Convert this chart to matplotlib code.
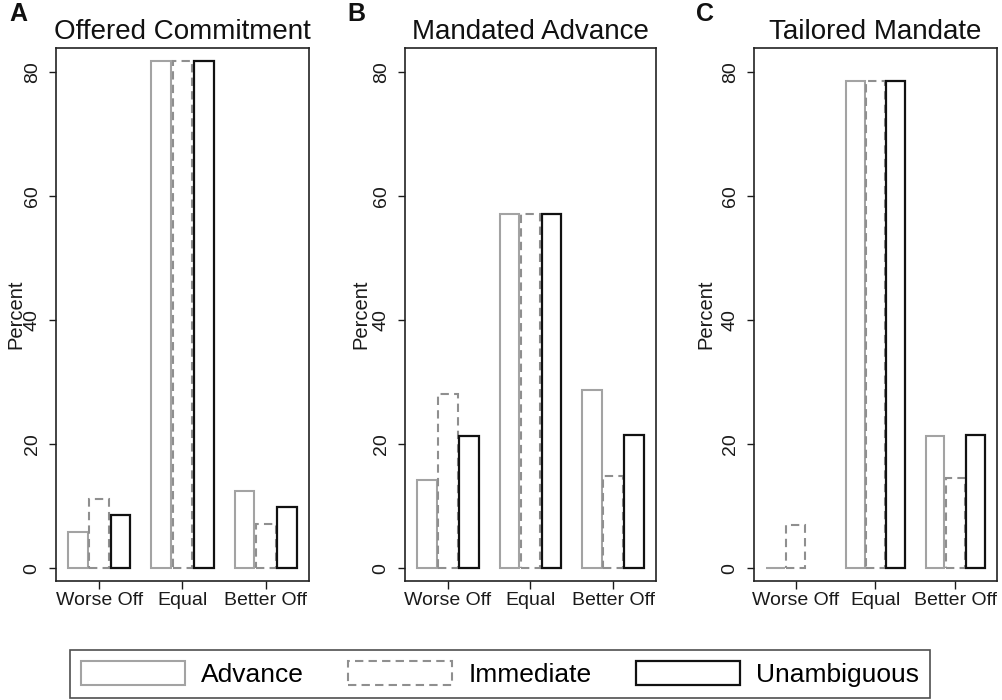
import numpy as np
import matplotlib
matplotlib.use("Agg")
import matplotlib.pyplot as plt
from matplotlib.patches import Patch

plt.rcParams["font.family"] = ["Liberation Sans", "DejaVu Sans"]

categories = ["Worse Off", "Equal", "Better Off"]
series_names = ["Advance", "Immediate", "Unambiguous"]
panel_letters = ["A", "B", "C"]
panel_titles = ["Offered Commitment", "Mandated Advance", "Tailored Mandate"]

# percent per outcome, one list per series
offered_advance = [5.9, 81.8, 12.5]
offered_immediate = [11.2, 81.8, 7.1]
offered_unambiguous = [8.6, 81.8, 9.8]

mandated_advance = [14.2, 57.2, 28.7]
mandated_immediate = [28.1, 57.2, 14.8]
mandated_unambiguous = [21.3, 57.2, 21.5]

tailored_advance = [0.0, 78.6, 21.3]
tailored_immediate = [7.0, 78.6, 14.6]
tailored_unambiguous = [np.nan, 78.6, 21.5]  # no bar drawn in the original

panels = [
    [offered_advance, offered_immediate, offered_unambiguous],
    [mandated_advance, mandated_immediate, mandated_unambiguous],
    [tailored_advance, tailored_immediate, tailored_unambiguous],
]

styles = [
    dict(edgecolor="#a3a3a3", linestyle="-", linewidth=1.5),
    dict(edgecolor="#8f8f8f", linestyle=(0, (4, 2.5)), linewidth=1.5),
    dict(edgecolor="#111111", linestyle="-", linewidth=1.6),
]

W, H = 1003, 700
fig = plt.figure(figsize=(W / 100, H / 100), dpi=100)

# axes boxes in pixels: left, right
boxes = [(56, 309), (405, 656), (754, 997)]
top_px, bottom_px = 48, 581
letter_x = [9, 347, 696]
ylabel_off = [-31, -35, -39]

x = np.arange(len(categories))
offsets = [-0.255, 0.0, 0.255]
bar_w = 0.235

for i, (left, right) in enumerate(boxes):
    ax = fig.add_axes([left / W, 1 - bottom_px / H, (right - left) / W,
                       (bottom_px - top_px) / H])
    for values, off, st in zip(panels[i], offsets, styles):
        ax.bar(x + off, values, width=bar_w, facecolor="white", **st)
    ax.set_xlim(-0.52, 2.52)
    ax.set_ylim(-2.06, 83.9)
    ax.set_xticks(x)
    ax.set_xticklabels(categories)
    ax.set_yticks([0, 20, 40, 60, 80])
    ax.tick_params(axis="x", labelsize=14, length=6, width=1, pad=2,
                   colors="#1a1a1a")
    ax.tick_params(axis="y", labelsize=14, length=5, width=1, pad=6,
                   colors="#1a1a1a", labelrotation=90)
    for lbl in ax.get_yticklabels():
        lbl.set_va("center")
    for sp in ax.spines.values():
        sp.set_linewidth(1.2)
        sp.set_color("#222222")
    ax.set_ylabel("Percent", fontsize=14.5, color="#1a1a1a")
    ax.yaxis.set_label_coords(ylabel_off[i] / (right - left), 0.5)
    ax.set_title(panel_titles[i], fontsize=20, pad=6.5, color="#111111")
    fig.text(letter_x[i] / W, 1 - 2 / H, panel_letters[i], fontsize=18,
             fontweight="bold", va="top", ha="left", color="#111111")

handles = [Patch(facecolor="white", **st) for st in styles]
leg = fig.legend(handles, series_names, loc="center", ncol=3,
                 bbox_to_anchor=(500 / W, 1 - 674 / H), fontsize=19,
                 handlelength=3.94, handleheight=1.02, handletextpad=0.6,
                 columnspacing=1.7, borderpad=0.4, frameon=True,
                 fancybox=False, edgecolor="#222222")
leg.get_frame().set_linewidth(1.2)

fig.savefig("out.png", dpi=100)
